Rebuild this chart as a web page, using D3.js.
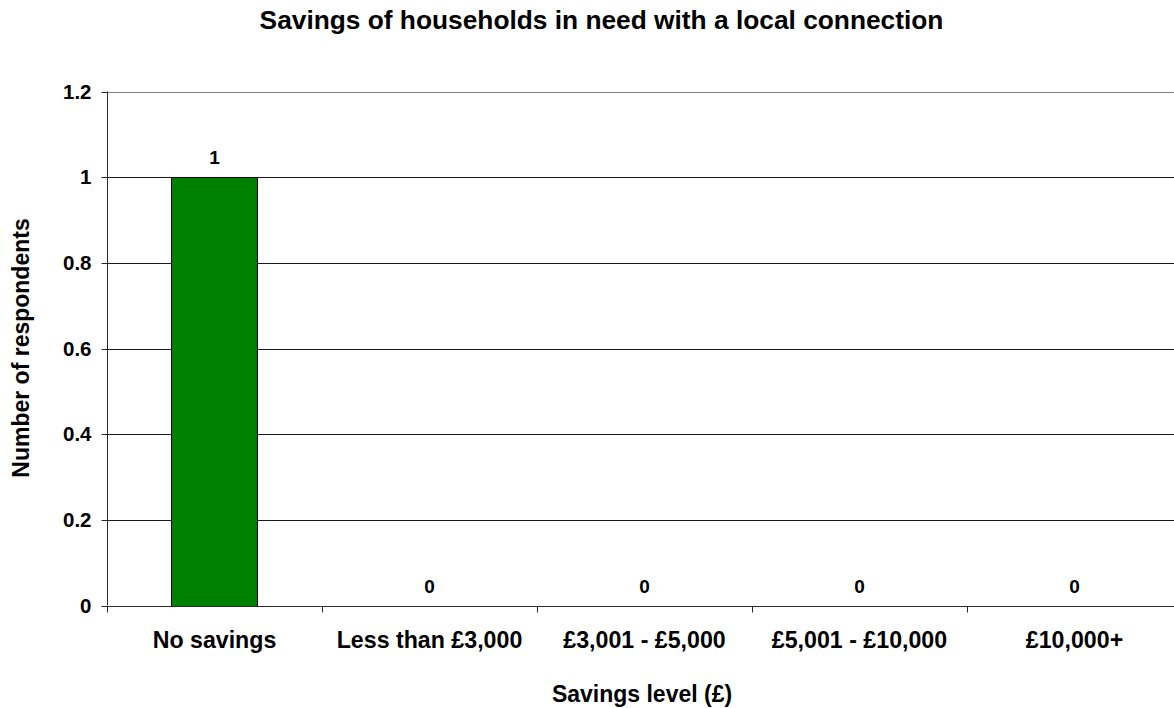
<!DOCTYPE html>
<html>
<head>
<meta charset="utf-8">
<script src="https://cdn.jsdelivr.net/npm/d3@7/dist/d3.min.js"></script>
<style>
  html, body { margin: 0; padding: 0; background: #fff; }
  svg { display: block; font-family: "Liberation Sans", Arial, sans-serif; font-weight: bold; }
</style>
</head>
<body>
<svg id="chart" width="1174" height="708"></svg>
<script>
// Survey data: savings level of households in need with a local connection
const categories = ["No savings", "Less than £3,000", "£3,001 - £5,000", "£5,001 - £10,000", "£10,000+"];
const respondents = [1, 0, 0, 0, 0];
const yTicks = [0, 0.2, 0.4, 0.6, 0.8, 1, 1.2];

const svg = d3.select("#chart");

// Plot area (right edge runs past the visible frame)
const plot = { left: 107, right: 1182, top: 91.5, bottom: 605.5 };

const x = d3.scaleBand()
  .domain(categories)
  .range([plot.left, plot.right])
  .paddingInner(0.6)
  .paddingOuter(0.3);

const y = d3.scaleLinear()
  .domain([0, 1.2])
  .range([plot.bottom, plot.top]);

const axisColor = "#2a2a2a";
const gridColor = "#1a1a1a";
const borderColor = "#808080";
const py = v => Math.round(y(v)) + 0.5;

// Plot-area border along the top
svg.append("line")
  .attr("x1", plot.left).attr("x2", plot.right)
  .attr("y1", py(1.2)).attr("y2", py(1.2))
  .attr("stroke", borderColor).attr("stroke-width", 1);

// Horizontal gridlines
svg.append("g")
  .selectAll("line")
  .data(yTicks.filter(d => d > 0 && d < 1.2))
  .join("line")
  .attr("x1", plot.left)
  .attr("x2", plot.right)
  .attr("y1", d => py(d))
  .attr("y2", d => py(d))
  .attr("stroke", gridColor)
  .attr("stroke-width", 1);

// Bars
svg.append("g")
  .selectAll("rect")
  .data(respondents)
  .join("rect")
  .attr("x", (d, i) => Math.round(x(categories[i])) + 0.5)
  .attr("y", d => py(d))
  .attr("width", x.bandwidth())
  .attr("height", d => Math.round(y(0)) - Math.round(y(d)))
  .attr("fill", "#008000")
  .attr("stroke", "#000")
  .attr("stroke-width", 1)
  .style("display", d => d > 0 ? null : "none");

// Y axis
const yAxis = d3.axisLeft(y)
  .tickValues(yTicks)
  .tickFormat(d => d3.format("")(d))
  .tickSize(6)
  .tickPadding(10);

const gy = svg.append("g")
  .attr("transform", `translate(${plot.left + 0.5},0)`)
  .call(yAxis);
gy.select(".domain").attr("stroke", axisColor).attr("d", `M0,${plot.top}V${plot.bottom}`);
gy.selectAll(".tick line").attr("stroke", axisColor);
gy.selectAll(".tick").attr("transform", d => `translate(0,${py(d)})`);
gy.selectAll(".tick text")
  .attr("fill", "#000")
  .style("font-size", "20.5px")
  .style("font-weight", "bold")
  .style("font-family", "'Liberation Sans', Arial, sans-serif");

// X axis: ticks at category boundaries
const gx = svg.append("g");
gx.append("line")
  .attr("x1", plot.left).attr("x2", plot.right)
  .attr("y1", py(0)).attr("y2", py(0))
  .attr("stroke", axisColor);
const step = x.step();
const boundaries = d3.range(categories.length + 1).map(i => plot.left + i * step);
gx.selectAll("line.tk")
  .data(boundaries)
  .join("line")
  .attr("class", "tk")
  .attr("x1", d => Math.round(d) + 0.5)
  .attr("x2", d => Math.round(d) + 0.5)
  .attr("y1", py(0))
  .attr("y2", py(0) + 6)
  .attr("stroke", axisColor);

gx.selectAll("text.cat")
  .data(categories)
  .join("text")
  .attr("class", "cat")
  .attr("x", d => x(d) + x.bandwidth() / 2)
  .attr("y", 648)
  .attr("text-anchor", "middle")
  .style("font-size", "23.2px")
  .text(d => d);

// Value labels
svg.append("g")
  .selectAll("text")
  .data(respondents)
  .join("text")
  .attr("x", (d, i) => x(categories[i]) + x.bandwidth() / 2)
  .attr("y", d => y(d) - 13)
  .attr("text-anchor", "middle")
  .style("font-size", "19px")
  .text(d => d);

// Title
svg.append("text")
  .attr("x", 601.5)
  .attr("y", 28.5)
  .attr("text-anchor", "middle")
  .style("font-size", "26.3px")
  .text("Savings of households in need with a local connection");

// Axis titles
svg.append("text")
  .attr("x", 642)
  .attr("y", 701.5)
  .attr("text-anchor", "middle")
  .style("font-size", "23px")
  .text("Savings level (£)");

svg.append("text")
  .attr("transform", `translate(28.5,348) rotate(-90)`)
  .attr("text-anchor", "middle")
  .style("font-size", "23px")
  .text("Number of respondents");
</script>
</body>
</html>
